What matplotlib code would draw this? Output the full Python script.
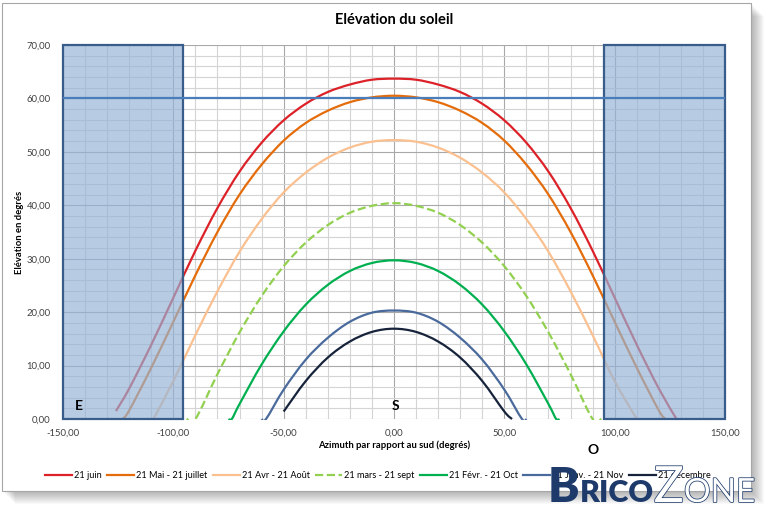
import numpy as np
import matplotlib
matplotlib.use('Agg')
import matplotlib.pyplot as plt
import matplotlib.patheffects as pe
from matplotlib.path import Path
from matplotlib.patches import PathPatch, Rectangle
from matplotlib.lines import Line2D
from matplotlib.ticker import MultipleLocator, FuncFormatter
from matplotlib.colors import to_rgba

plt.rcParams['font.family'] = ['Lato', 'DejaVu Sans']

# sun paths: azimuth from south (deg) / elevation (deg)
juin_az = [-126, -120, -110, -100, -90, -80, -70, -60, -50, -40, -30, -20, -10, 0,
           10, 20, 30, 40, 50, 60, 70, 80, 90, 100, 110, 120, 128]
juin_el = [1.5, 5.7, 13.9, 22.7, 31.5, 39.5, 46.3, 51.7, 55.9, 59.0, 61.2, 62.6, 63.5, 63.7,
           63.5, 62.6, 61.2, 59.0, 55.9, 51.7, 46.3, 39.5, 31.5, 22.7, 13.9, 5.7, 0.0]

mai_az = [-123, -120, -110, -100, -90, -80, -70, -60, -50, -40, -30, -20, -10, 0,
          10, 20, 30, 40, 50, 60, 70, 80, 90, 100, 110, 120, 123]
mai_el = [0.0, 1.6, 9.6, 18.2, 26.9, 35.0, 42.0, 47.6, 52.1, 55.4, 57.7, 59.3, 60.2, 60.5,
          60.2, 59.3, 57.7, 55.4, 52.1, 47.6, 42.0, 35.0, 26.9, 18.2, 9.6, 1.6, 0.0]

avr_az = [-109, -100, -90, -80, -70, -60, -50, -40, -30, -20, -10, 0,
          10, 20, 30, 40, 50, 60, 70, 80, 90, 100, 110]
avr_el = [0.0, 7.1, 15.7, 23.9, 31.3, 37.4, 42.4, 46.1, 48.9, 50.8, 51.9, 52.2,
          51.9, 50.8, 48.9, 46.1, 42.4, 37.4, 31.3, 23.9, 15.7, 7.1, 0.0]

mars_az = [-94, -90, -80, -70, -60, -50, -40, -30, -20, -10, 0,
           10, 20, 30, 40, 50, 60, 70, 80, 90, 94]
mars_el = [0.0, 0.0, 8.4, 16.2, 23.0, 28.6, 33.0, 36.3, 38.6, 39.9, 40.4,
           39.9, 38.6, 36.3, 33.0, 28.6, 23.0, 16.2, 8.4, 0.0, 0.0]

fev_az = [-75, -73.5, -70, -60, -50, -40, -30, -20, -10, 0,
          10, 20, 30, 40, 50, 60, 70, 73.5, 75]
fev_el = [0.0, 0.0, 2.8, 10.2, 16.4, 21.4, 25.1, 27.7, 29.2, 29.7,
          29.2, 27.7, 25.1, 21.4, 16.4, 10.2, 2.8, 0.0, 0.0]

nov_az = [-60, -58, -50, -40, -30, -20, -10, 0, 10, 20, 30, 40, 50, 58, 60]
nov_el = [0.0, 0.0, 5.5, 11.1, 15.2, 18.2, 19.9, 20.3, 19.9, 18.2, 15.2, 11.1, 5.5, 0.0, 0.0]

dec_az = [-50, -40, -30, -20, -10, 0, 10, 20, 30, 40, 50, 53.5]
dec_el = [1.4, 7.1, 11.5, 14.5, 16.3, 16.9, 16.3, 14.5, 11.5, 7.1, 1.4, 0.0]

labels = ['21 juin', '21 Mai - 21 juillet', '21 Avr - 21 Août', '21 mars - 21 sept',
          '21 Févr. - 21 Oct', '21 Janv. - 21 Nov', '21 décembre']
colors = ['#dc2228', '#e46c0a', '#fac090', '#92d050', '#00b050', '#4a6a9c', '#17233b']
styles = ['-', '-', '-', '--', '-', '-', '-']
series = [(juin_az, juin_el), (mai_az, mai_el), (avr_az, avr_el), (mars_az, mars_el),
          (fev_az, fev_el), (nov_az, nov_el), (dec_az, dec_el)]

# hidden sectors (east / west) and the 60 deg line
zone_left = (-150, -95.5)
zone_right = (95.2, 150)
zone_top = 70
limit_el = 60

W, H = 780, 520


def fx(px):
    return px / W


def fy(py):
    return 1 - py / H


def smooth_line(ax, x, y, **kw):
    # Excel-like smoothed line: Catmull-Rom turned into cubic Bezier segments
    pts = np.column_stack([x, y]).astype(float)
    n = len(pts)
    verts = [pts[0]]
    codes = [Path.MOVETO]
    for i in range(n - 1):
        p0 = pts[max(i - 1, 0)]
        p1 = pts[i]
        p2 = pts[i + 1]
        p3 = pts[min(i + 2, n - 1)]
        verts += [p1 + (p2 - p0) / 6, p2 - (p3 - p1) / 6, p2]
        codes += [Path.CURVE4] * 3
    patch = PathPatch(Path(verts, codes), fill=False, capstyle='butt', **kw)
    ax.add_patch(patch)
    # keep the half of the stroke that sits on the 0 line, cut the small overshoot
    clip = Rectangle((-150, -0.25), 300, 71, transform=ax.transData)
    patch.set_clip_path(clip)


fig = plt.figure(figsize=(7.8, 5.2), dpi=100)

# drop shadow + chart frame
for k in range(1, 14):
    fig.patches.append(Rectangle((fx(2 + k), fy(491 + k)), fx(749), 488 / H,
                                 transform=fig.transFigure, facecolor='black',
                                 alpha=0.022, edgecolor='none', zorder=0))
fig.patches.append(Rectangle((fx(2), fy(491)), fx(749), 488 / H, transform=fig.transFigure,
                             facecolor='white', edgecolor='#a6a6a6', lw=0.8, zorder=1))

ax = fig.add_axes([fx(63), fy(419), (725 - 63) / W, (419 - 45) / H])
ax.set_facecolor('none')
ax.set_zorder(2)

for (xs, ys), c, ls in zip(series, colors, styles):
    smooth_line(ax, xs, ys, color=c, lw=1.6, linestyle=ls, zorder=2)

for x0, x1 in (zone_left, zone_right):
    ax.add_patch(Rectangle((x0, 0), x1 - x0, zone_top, facecolor=to_rgba('#95b3d7', 0.68),
                           edgecolor='#385d8a', lw=1.6, zorder=3, clip_on=False))

ax.axhline(limit_el, color='#4a7ebb', lw=1.6, zorder=4)

ax.set_xlim(-150, 150)
ax.set_ylim(0, 70)
ax.xaxis.set_major_locator(MultipleLocator(50))
ax.xaxis.set_minor_locator(MultipleLocator(10))
ax.yaxis.set_major_locator(MultipleLocator(10))
ax.yaxis.set_minor_locator(MultipleLocator(2))
fmt = FuncFormatter(lambda v, p: f'{v:.2f}'.replace('.', ','))
ax.xaxis.set_major_formatter(fmt)
ax.yaxis.set_major_formatter(fmt)
ax.grid(which='major', color='#a8a8a8', lw=0.8, zorder=0)
ax.grid(which='minor', color='#d4d4d4', lw=0.8, zorder=0)
ax.set_axisbelow(True)
ax.tick_params(which='both', length=0, labelsize=6.8, colors='#404040')
ax.tick_params(axis='y', pad=9)
ax.tick_params(axis='x', pad=7)
for s in ax.spines.values():
    s.set_visible(False)

ax.set_xlabel('Azimuth par rapport au sud (degrés)', fontsize=6.8, fontweight='bold')
ax.xaxis.set_label_coords(0.5, -0.058)
fig.text(fx(20), fy(232), 'Elévation en degrés', rotation=90, ha='center', va='center',
         fontsize=6.8, fontweight='bold')
fig.text(fx(394), fy(20), 'Elévation du soleil', ha='center', va='center',
         fontsize=10.5, fontweight='bold')

ax.text(-144.5, 1.6, 'E', fontsize=10, fontweight='bold', ha='left', va='baseline', zorder=5)
ax.text(0.5, 1.6, 'S', fontsize=10, fontweight='bold', ha='center', va='baseline', zorder=5)
ax.text(90, -0.083, 'O', fontsize=10, fontweight='bold', ha='center', va='center',
        transform=ax.get_xaxis_transform())

handles = [Line2D([], [], color=c, lw=1.6, linestyle=ls) for c, ls in zip(colors, styles)]
fig.legend(handles, labels, loc='center', bbox_to_anchor=(fx(378), fy(476)), ncol=7,
           frameon=False, fontsize=6.6, handlelength=2.9, handletextpad=0.25,
           columnspacing=0.6)

# BricoZone watermark, pieces placed one after the other
navy = '#1d3a6b'
outline = [pe.Stroke(linewidth=1.1, foreground=navy), pe.Normal()]
renderer = fig.canvas.get_renderer()
x = 548
for txt, size, solid in [('B', 34, True), ('RICO', 22, True), ('Z', 36, False), ('ONE', 24, False)]:
    if solid:
        t = fig.text(fx(x), fy(502), txt, fontsize=size, fontweight='heavy', color=navy, zorder=10)
    else:
        t = fig.text(fx(x), fy(502), txt, fontsize=size, color='white', zorder=10,
                     path_effects=outline)
    x += t.get_window_extent(renderer).width

fig.savefig('out.png', dpi=100, facecolor='white')
